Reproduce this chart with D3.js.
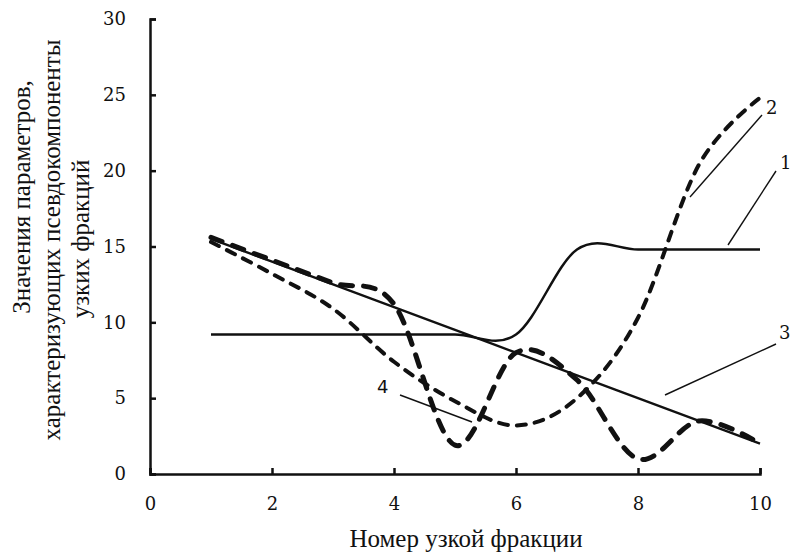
<!DOCTYPE html>
<html>
<head>
<meta charset="utf-8">
<script src="https://cdn.jsdelivr.net/npm/d3@7"></script>
<style>
  body { margin: 0; background: #fff; }
  .title { font-family: "Liberation Serif", serif; font-size: 25px; fill: #111; }
  .num { font-family: "DejaVu Serif", serif; font-size: 18px; fill: #111; }
</style>
</head>
<body>
<div id="chart"></div>
<script>
// Values
var fractions = [1, 2, 3, 4, 5, 6, 7, 8, 9, 10];
var series1 = [9.2, 9.2, 9.2, 9.2, 9.2, 9.2, 14.8, 14.8, 14.8, 14.8];
var series2 = [15.3, 13.2, 10.9, 7.4, 4.8, 3.2, 5.0, 10.3, 20.4, 24.8];
var series3 = [15.5, 14.0, 12.5, 11.0, 9.5, 8.0, 6.5, 5.0, 3.5, 2.0];
var series4 = [15.6, 14.1, 12.6, 11.2, 1.9, 8.0, 6.2, 1.0, 3.5, 2.0];
var xTicks = [0, 2, 4, 6, 8, 10];
var yTicks = [0, 5, 10, 15, 20, 25, 30];

var width = 793;
var height = 554;

var svg = d3.select("#chart")
    .append("svg")
    .attr("width", width)
    .attr("height", height);

var xScale = d3.scaleLinear().domain([0, 10]).range([150, 760]);
var yScale = d3.scaleLinear().domain([0, 30]).range([474, 19]);

// axes, ticks pointing inward
var xAxis = d3.axisBottom(xScale).tickValues(xTicks).tickSize(-6).tickPadding(23);
var yAxis = d3.axisLeft(yScale).tickValues(yTicks).tickSize(-6).tickPadding(24);

svg.append("g")
    .attr("transform", "translate(0," + yScale(0) + ")")
    .call(xAxis);

svg.append("g")
    .attr("transform", "translate(" + xScale(0) + ",0)")
    .call(yAxis);

svg.selectAll(".domain, .tick line")
    .attr("stroke", "#111")
    .attr("stroke-width", 2.5);

svg.selectAll(".tick text")
    .style("font-family", "'DejaVu Serif', serif")
    .style("font-size", "18px")
    .style("fill", "#111");

// curves
function lineFor(values) {
  return d3.line()
      .x(function(d, i) { return xScale(fractions[i]); })
      .y(function(d) { return yScale(d); })
      .curve(d3.curveCardinal.tension(0))(values);
}

svg.append("path")
    .attr("d", lineFor(series3))
    .attr("fill", "none")
    .attr("stroke", "#111")
    .attr("stroke-width", 2.3);

svg.append("path")
    .attr("d", lineFor(series1))
    .attr("fill", "none")
    .attr("stroke", "#111")
    .attr("stroke-width", 2.5);

svg.append("path")
    .attr("d", lineFor(series2))
    .attr("fill", "none")
    .attr("stroke", "#111")
    .attr("stroke-width", 4)
    .attr("stroke-linecap", "round")
    .attr("stroke-dasharray", "9,9");

svg.append("path")
    .attr("d", lineFor(series4))
    .attr("fill", "none")
    .attr("stroke", "#111")
    .attr("stroke-width", 5)
    .attr("stroke-linecap", "round")
    .attr("stroke-dasharray", "12,11");

// curve labels with leader lines
var leaders = [
  {x1: 762, y1: 115, x2: 690, y2: 197},
  {x1: 776, y1: 171, x2: 728, y2: 245},
  {x1: 776, y1: 344, x2: 665, y2: 395},
  {x1: 400, y1: 395, x2: 472, y2: 422}
];
svg.selectAll(".leader")
    .data(leaders)
    .enter()
    .append("line")
    .attr("x1", function(d) { return d.x1; })
    .attr("y1", function(d) { return d.y1; })
    .attr("x2", function(d) { return d.x2; })
    .attr("y2", function(d) { return d.y2; })
    .attr("stroke", "#111")
    .attr("stroke-width", 1.4);

svg.append("text").attr("class", "num").attr("x", 766).attr("y", 114).text("2");
svg.append("text").attr("class", "num").attr("x", 780).attr("y", 169).text("1");
svg.append("text").attr("class", "num").attr("x", 779).attr("y", 339).text("3");
svg.append("text").attr("x", 377).attr("y", 393)
    .style("font-family", "DejaVu Sans, sans-serif")
    .style("font-size", "18px")
    .attr("fill", "#111")
    .text("4");

// axis titles
svg.append("text")
    .attr("class", "title")
    .attr("x", 466)
    .attr("y", 547)
    .attr("text-anchor", "middle")
    .text("Номер узкой фракции");

var yLines = [
  {text: "Значения параметров,", x: 30, y: 197},
  {text: "характеризующих псевдокомпоненты", x: 60, y: 240},
  {text: "узких фракций", x: 89, y: 239}
];
yLines.forEach(function(l) {
  svg.append("text")
      .attr("class", "title")
      .attr("text-anchor", "middle")
      .attr("transform", "translate(" + l.x + "," + l.y + ")rotate(-90)")
      .text(l.text);
});
</script>
</body>
</html>
